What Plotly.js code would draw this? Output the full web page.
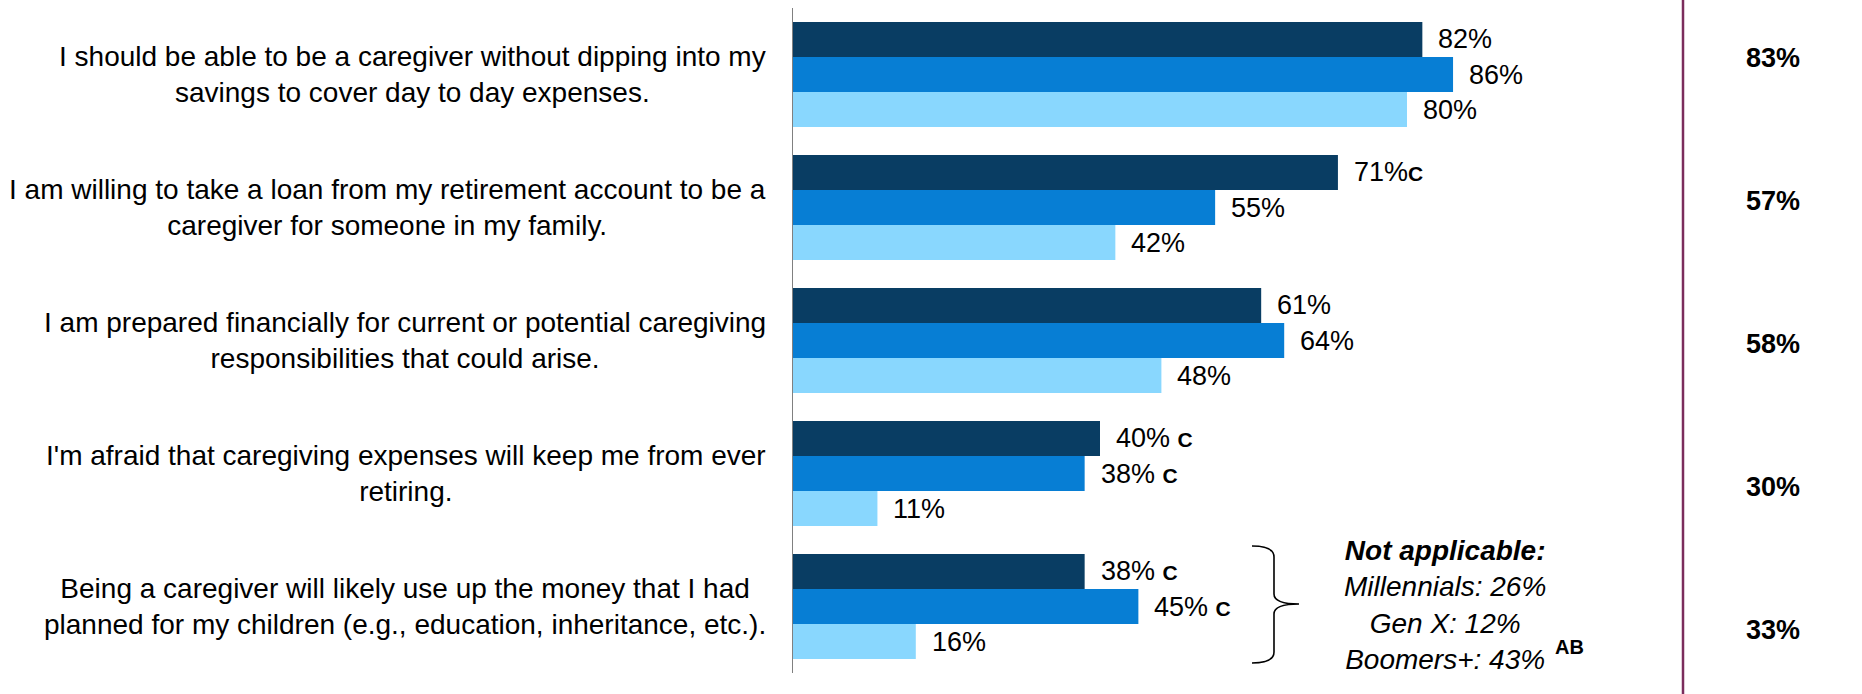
<!DOCTYPE html>
<html>
<head>
<meta charset="utf-8">
<script src="https://cdn.plot.ly/plotly-3.0.1.min.js"></script>
<style>
  html, body { margin: 0; padding: 0; background: #ffffff; }
  #chart { width: 1862px; height: 694px; }
</style>
</head>
<body>
<div id="chart"></div>
<script>
// ---------------- DATA ----------------
const categories = [
  "I should be able to be a caregiver without dipping into my<br>savings to cover day to day expenses.",
  "I am willing to take a loan from my retirement account to be a<br>caregiver for someone in my family.",
  "I am prepared financially for current or potential caregiving<br>responsibilities that could arise.",
  "I'm afraid that caregiving expenses will keep me from ever<br>retiring.",
  "Being a caregiver will likely use up the money that I had<br>planned for my children (e.g., education, inheritance, etc.)."
];
const seriesNames = ["Millennials", "Gen X", "Boomers+"];
const millennials = [82, 71, 61, 40, 38];
const genX        = [86, 55, 64, 38, 45];
const boomers     = [80, 42, 48, 11, 16];
const millennialsSig = ["", "C", "", "C", "C"];
const genXSig        = ["", "", "", "C", "C"];
const boomersSig     = ["", "", "", "", ""];
const totals = [83, 57, 58, 30, 33];
const notApplicableLabels = ["Millennials", "Gen X", "Boomers+"];
const notApplicableValues = [26, 12, 43];
const notApplicableSig = "AB";

// ---------------- STYLE / LAYOUT ----------------
const colors = ["#093D63", "#077ED4", "#89D7FE"];
const FONT = "Liberation Sans, Arial, sans-serif";
const W = 1862, H = 694;
const L = 793, T = 8, B = 21;
const plotW = W - L, plotH = H - T - B;
const pxPerPct = 7.675;
const xMax = plotW / pxPerPct;
const px2x = px => (px - L) / plotW;
const py2y = py => 1 - (py - T) / plotH;

const seriesValues = [millennials, genX, boomers];
const seriesSig = [millennialsSig, genXSig, boomersSig];

const traces = seriesValues.map((vals, s) => ({
  type: "bar",
  orientation: "h",
  name: seriesNames[s],
  y: categories,
  x: vals,
  marker: { color: colors[s], line: { width: 0 } },
  hoverinfo: "skip",
  textposition: "none"
}));

const annotations = [];

// category labels (left, centered text block)
categories.forEach(c => {
  annotations.push({
    xref: "paper", yref: "y", x: px2x(768), y: c,
    xanchor: "right", yanchor: "middle", align: "center",
    text: c, showarrow: false,
    font: { family: FONT, size: 28, color: "#000000" }
  });
});

// value labels
const barPx = plotH / categories.length * 0.79 / 3;
seriesValues.forEach((vals, s) => {
  vals.forEach((v, i) => {
    const sig = seriesSig[s][i];
    let txt = v + "%";
    if (sig) {
      txt += (s === 0 && i === 1 ? "" : " ") +
        '<span style="font-size:21px"><b>' + sig + "</b></span>";
    }
    annotations.push({
      xref: "x", yref: "y", x: v, y: categories[i],
      xanchor: "left", yanchor: "middle", xshift: 14, yshift: (1 - s) * barPx,
      text: txt, showarrow: false,
      font: { family: FONT, size: 27, color: "#000000" }
    });
  });
});

// totals column
totals.forEach((t, i) => {
  annotations.push({
    xref: "paper", yref: "paper", x: px2x(1773), y: py2y(58 + 143 * i),
    xanchor: "center", yanchor: "middle",
    text: "<b>" + t + "%</b>", showarrow: false,
    font: { family: FONT, size: 27, color: "#000000" }
  });
});

// Not applicable block
const naLines = ["<b><i>Not applicable:</i></b>"].concat(
  notApplicableLabels.map((n, k) => "<i>" + n + ": " + notApplicableValues[k] + "%</i>")
);
annotations.push({
  xref: "paper", yref: "paper", x: px2x(1445), y: py2y(605),
  xanchor: "center", yanchor: "middle", align: "center",
  text: naLines.join("<br>"), showarrow: false,
  font: { family: FONT, size: 28, color: "#000000" }
});
annotations.push({
  xref: "paper", yref: "paper", x: px2x(1553), y: py2y(647),
  xanchor: "left", yanchor: "middle",
  text: "<b>" + notApplicableSig + "</b>", showarrow: false,
  font: { family: FONT, size: 20, color: "#000000" }
});

// brace path
const bracePts = [
  ["M", 1252, 546], ["Q", 1274, 546, 1274, 557], ["L", 1274, 594],
  ["Q", 1274, 604, 1299, 604], ["Q", 1274, 604, 1274, 614], ["L", 1274, 652],
  ["Q", 1274, 663, 1252, 663]
];
const bracePath = bracePts.map(p => {
  let s = p[0];
  for (let k = 1; k < p.length; k += 2) s += " " + px2x(p[k]).toFixed(5) + "," + py2y(p[k + 1]).toFixed(5);
  return s;
}).join(" ");

const shapes = [
  {
    type: "line", xref: "paper", yref: "paper",
    x0: px2x(1683), x1: px2x(1683), y0: py2y(H + 2), y1: py2y(-2),
    line: { color: "#7B2D5C", width: 2.5 }
  },
  {
    type: "path", xref: "paper", yref: "paper", path: bracePath,
    line: { color: "#000000", width: 1.6 }, fillcolor: "rgba(0,0,0,0)"
  }
];

const layout = {
  width: W, height: H,
  margin: { l: L, r: 0, t: T, b: B, pad: 0 },
  paper_bgcolor: "#ffffff", plot_bgcolor: "#ffffff",
  barmode: "group", bargap: 0.21, bargroupgap: 0,
  showlegend: false,
  font: { family: FONT, size: 27, color: "#000000" },
  xaxis: { range: [0, xMax], visible: false, fixedrange: true, showgrid: false, zeroline: false },
  yaxis: {
    type: "category", autorange: "reversed", showticklabels: false, ticks: "",
    showgrid: false, zeroline: false, showline: true, linecolor: "#808080", linewidth: 1.5,
    fixedrange: true
  },
  annotations: annotations,
  shapes: shapes
};

Plotly.newPlot("chart", traces, layout, { displayModeBar: false, staticPlot: true });
</script>
</body>
</html>
